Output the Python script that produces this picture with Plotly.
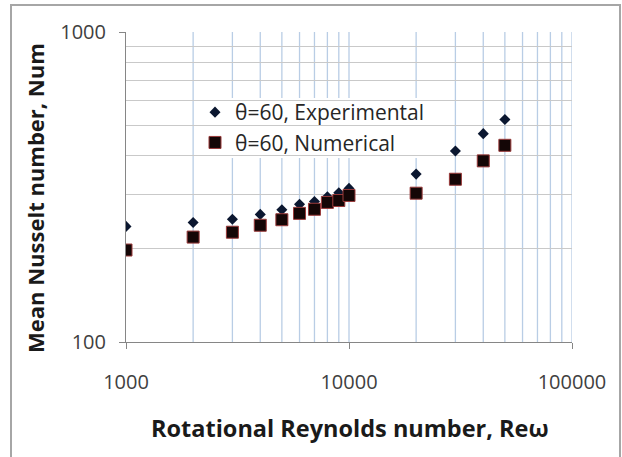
import plotly.graph_objects as go

# Data
re_omega = [1000, 2000, 3000, 4000, 5000, 6000, 7000, 8000, 9000, 10000,
            20000, 30000, 40000, 50000]
nu_experimental = [236, 243, 249, 258, 267, 278, 284, 294, 303, 313,
                   348, 413, 470, 522]
nu_numerical = [198, 218, 226, 238, 248, 260, 268, 282, 286, 297,
                302, 335, 384, 431]

x_tickvals = [1000, 10000, 100000]
x_ticktext = ["1000", "10000", "100000"]
y_tickvals = [100, 1000]
y_ticktext = ["100", "1000"]
x_grid_vals = [2000, 3000, 4000, 5000, 6000, 7000, 8000, 9000, 10000,
               20000, 30000, 40000, 50000, 60000, 70000, 80000, 90000, 100000]
y_minor_vals = [200, 300, 400, 500, 600, 700, 800, 900]

FONT = "Open Sans"
L, R, T, B = 126, 50, 32, 115
W, H = 622, 457
PW, PH = W - L - R, H - T - B


def px_x(p):
    return (p - L) / PW


def px_y(p):
    return (H - B - p) / PH


fig = go.Figure()
fig.add_trace(go.Scatter(
    x=re_omega, y=nu_experimental, mode="markers",
    name="θ=60, Experimental", legendgroup="a",
    marker=dict(symbol="diamond", size=8.5, color="#0b1730",
                line=dict(width=0)),
))
fig.add_trace(go.Scatter(
    x=re_omega, y=nu_numerical, mode="markers",
    name="θ=60, Numerical", legendgroup="b",
    marker=dict(symbol="square", size=12, color="#140606",
                line=dict(width=1, color="#9a3a3a")),
))

shapes = []
for v in x_grid_vals:
    shapes.append(dict(type="line", xref="x", yref="paper", x0=v, x1=v,
                       y0=0, y1=1, layer="below",
                       line=dict(color="#b9cde5", width=1.3)))
# white legend background hiding the vertical grid lines
shapes.append(dict(type="rect", xref="paper", yref="paper",
                   x0=px_x(222), x1=px_x(436), y0=px_y(158), y1=px_y(98),
                   layer="below", fillcolor="white", line=dict(width=0)))
# outer chart frame
shapes.append(dict(type="rect", xref="paper", yref="paper",
                   x0=px_x(11), x1=px_x(620), y0=px_y(470), y1=px_y(5),
                   layer="above", fillcolor="rgba(0,0,0,0)",
                   line=dict(color="#a6a6a6", width=2)))

annotations = [
    dict(text="<b>Rotational Reynolds number, Reω</b>", xref="paper",
         yref="paper", x=px_x(350), y=px_y(428), showarrow=False,
         font=dict(family=FONT, size=23.5, color="#1a1a1a"),
         xanchor="center", yanchor="middle"),
    dict(text="<b>Mean Nusselt number, Num</b>", xref="paper",
         yref="paper", x=px_x(35), y=px_y(198), showarrow=False,
         textangle=-90,
         font=dict(family=FONT, size=22, color="#1a1a1a"),
         xanchor="center", yanchor="middle"),
]

fig.update_layout(
    width=W, height=H,
    margin=dict(l=L, r=R, t=T, b=B),
    paper_bgcolor="white", plot_bgcolor="white",
    font=dict(family=FONT, color="#404040"),
    showlegend=True,
    legend=dict(x=px_x(195), y=px_y(92), xanchor="left", yanchor="top",
                bgcolor="rgba(0,0,0,0)", borderwidth=0,
                font=dict(family=FONT, size=21, color="#262626"),
                tracegroupgap=0, traceorder="grouped", itemwidth=30),
    shapes=shapes,
    annotations=annotations,
    xaxis=dict(type="log", range=[3, 5], showgrid=False,
               tickmode="array", tickvals=x_tickvals, ticktext=x_ticktext,
               ticks="outside", ticklen=6, tickcolor="#868686",
               showline=True, linecolor="#868686", linewidth=1,
               tickfont=dict(family=FONT, size=20, color="#404040"),
               ticklabelstandoff=16, zeroline=False),
    yaxis=dict(type="log", range=[2, 3], showgrid=True,
               gridcolor="#c9c9c9", gridwidth=1,
               tickmode="array", tickvals=y_tickvals, ticktext=y_ticktext,
               ticks="outside", ticklen=6, tickcolor="#868686",
               showline=True, linecolor="#868686", linewidth=1,
               tickfont=dict(family=FONT, size=20, color="#404040"),
               ticklabelstandoff=9, zeroline=False,
               minor=dict(tickmode="array", tickvals=y_minor_vals,
                          showgrid=True, gridcolor="#c9c9c9", gridwidth=1,
                          ticks="")),
)

fig.write_html("out.html")
